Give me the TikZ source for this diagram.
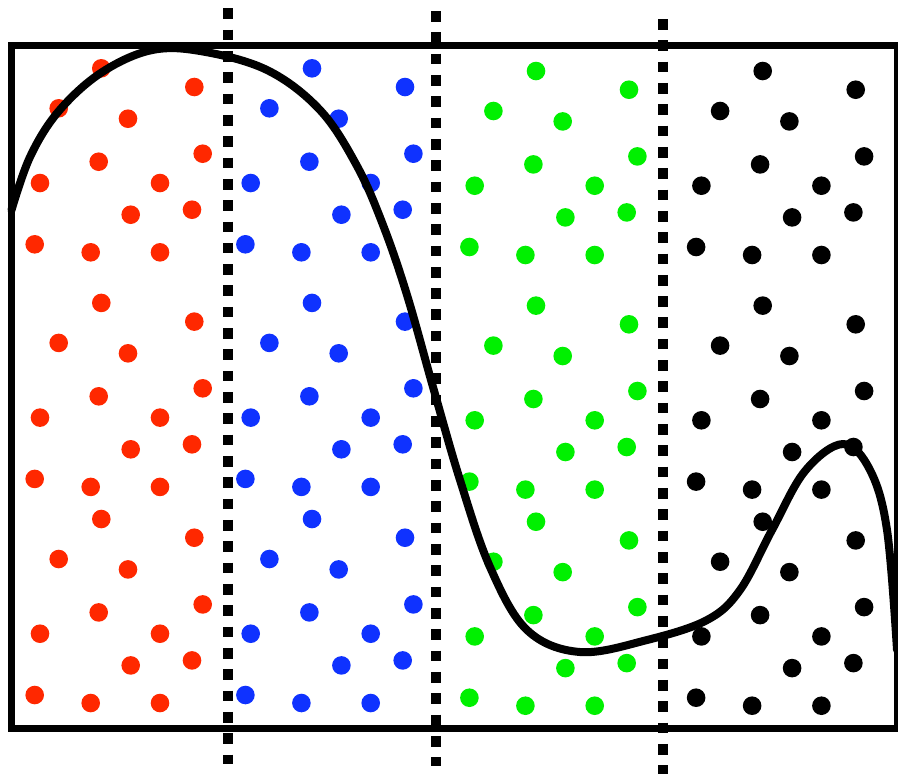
\documentclass[tikz,border=0pt]{standalone}
\definecolor{redc}{RGB}{255,40,0}
\definecolor{bluec}{RGB}{15,50,255}
\definecolor{greenc}{RGB}{0,240,0}
\definecolor{blackc}{RGB}{0,0,0}
\tikzset{
  frame/.style={line width=3.5pt},
  divider/.style={line width=5.33pt, dash pattern=on 5.33pt off 5.33pt},
  curveline/.style={line width=4pt, line join=round, line cap=round},
}
\begin{document}
\begin{tikzpicture}[x=0.5pt,y=-0.5pt]
\useasboundingbox (0,0) rectangle (898,773);
% dots
\foreach \dy in {0,234.6,450.7}{
  \foreach \c/\dx/\ddy in {redc/0/0, bluec/210.7/0, greenc/434.7/2.7, blackc/661.4/2.7}{
    \foreach \px/\py in {101.3/68.3, 194.3/87, 58.7/108.3, 128/118.7, 98.7/161.7, 202.7/153.7, 40/183, 160/183, 130.7/214.7, 192/209.7, 34.7/244.3, 90.7/252.3, 160/252.3}{
      \fill[\c] (\px+\dx, \py+\dy+\ddy) circle[radius=4.65pt];
    }
  }
}
% frame
\draw[frame] (11,45.5) rectangle (897.5,728);
% dividers
\coordinate (d1a) at (228,8.3);  \coordinate (d1b) at (228,763.5);
\coordinate (d2a) at (436,11);   \coordinate (d2b) at (436,766);
\coordinate (d3a) at (663,19);   \coordinate (d3b) at (663,780);
\draw[divider] (d1a) -- (d1b);
\draw[divider] (d2a) -- (d2b);
\draw[divider] (d3a) -- (d3b);
% curve
\draw[curveline] plot[smooth, tension=0.6] coordinates {
 (11.5,210) (30,157) (58,112) (100,73.5) (150,50.5) (200,51) (267,70) (320,110)
 (357,166) (383,225) (407,295) (433,387) (460,480) (490,567) (527,630) (580,652)
 (647,640) (707,620) (740,590) (772,530) (805,471) (843,444) (870,470)
 (887,530) (897,650)};
\end{tikzpicture}
\end{document}
